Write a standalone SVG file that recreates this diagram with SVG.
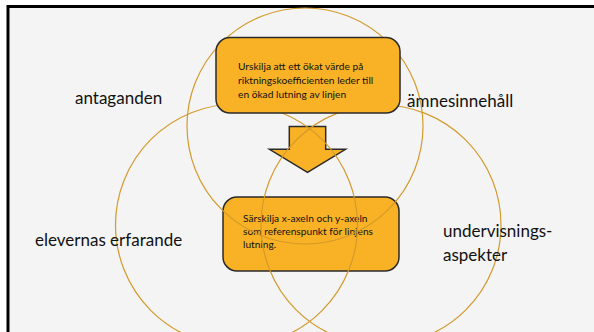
<svg xmlns="http://www.w3.org/2000/svg" width="594" height="332" viewBox="0 0 594 332">
<style>
.c{fill:none;stroke:#d39a2c;stroke-width:1.2}
.box{fill:#f9b225;stroke:#2a2a2a;stroke-width:1.5}
.t{font-family:Lato,"Liberation Sans",sans-serif;fill:#111}
.lbl{font-size:17px}
.s{font-size:10.2px}
</style>
<rect x="0" y="0" width="594" height="332" fill="#ffffff"/>
<rect x="8" y="6.5" width="620" height="360" fill="#f4f4f4" stroke="#000" stroke-width="3"/>
<g id="node-bottom">
<rect class="box" x="223" y="197" width="176" height="74" rx="14"/>
<text class="t s" x="243" y="222">Särskilja x-axeln och y-axeln</text>
<text class="t s" x="243" y="235">som referenspunkt för linjens</text>
<text class="t s" x="243" y="248">lutning.</text>
</g>
<g id="connectors">
<path class="box" d="M289.3 126.5 H325.7 V149.3 H345.5 L307.5 172.3 L269.5 149.3 H289.3 Z"/>
</g>
<g id="circles">
<circle class="c" cx="305" cy="126" r="118"/>
<circle class="c" cx="236.5" cy="225" r="121"/>
<circle class="c" cx="381" cy="225" r="120"/>
</g>
<g id="labels">
<text class="t lbl" x="75" y="103.5">antaganden</text>
<text class="t lbl" x="407" y="107">ämnesinnehåll</text>
<text class="t lbl" x="35" y="246">elevernas erfarande</text>
<text class="t lbl" x="443" y="237">undervisnings-</text>
<text class="t lbl" x="443" y="261">aspekter</text>
</g>
<g id="node-top">
<rect class="box" x="216" y="37.5" width="184" height="75.5" rx="14"/>
<text class="t s" x="238" y="70">Urskilja att ett ökat värde på</text>
<text class="t s" x="238" y="83.5">riktningskoefficienten leder till</text>
<text class="t s" x="238" y="97.5">en ökad lutning av linjen</text>
</g>
</svg>
